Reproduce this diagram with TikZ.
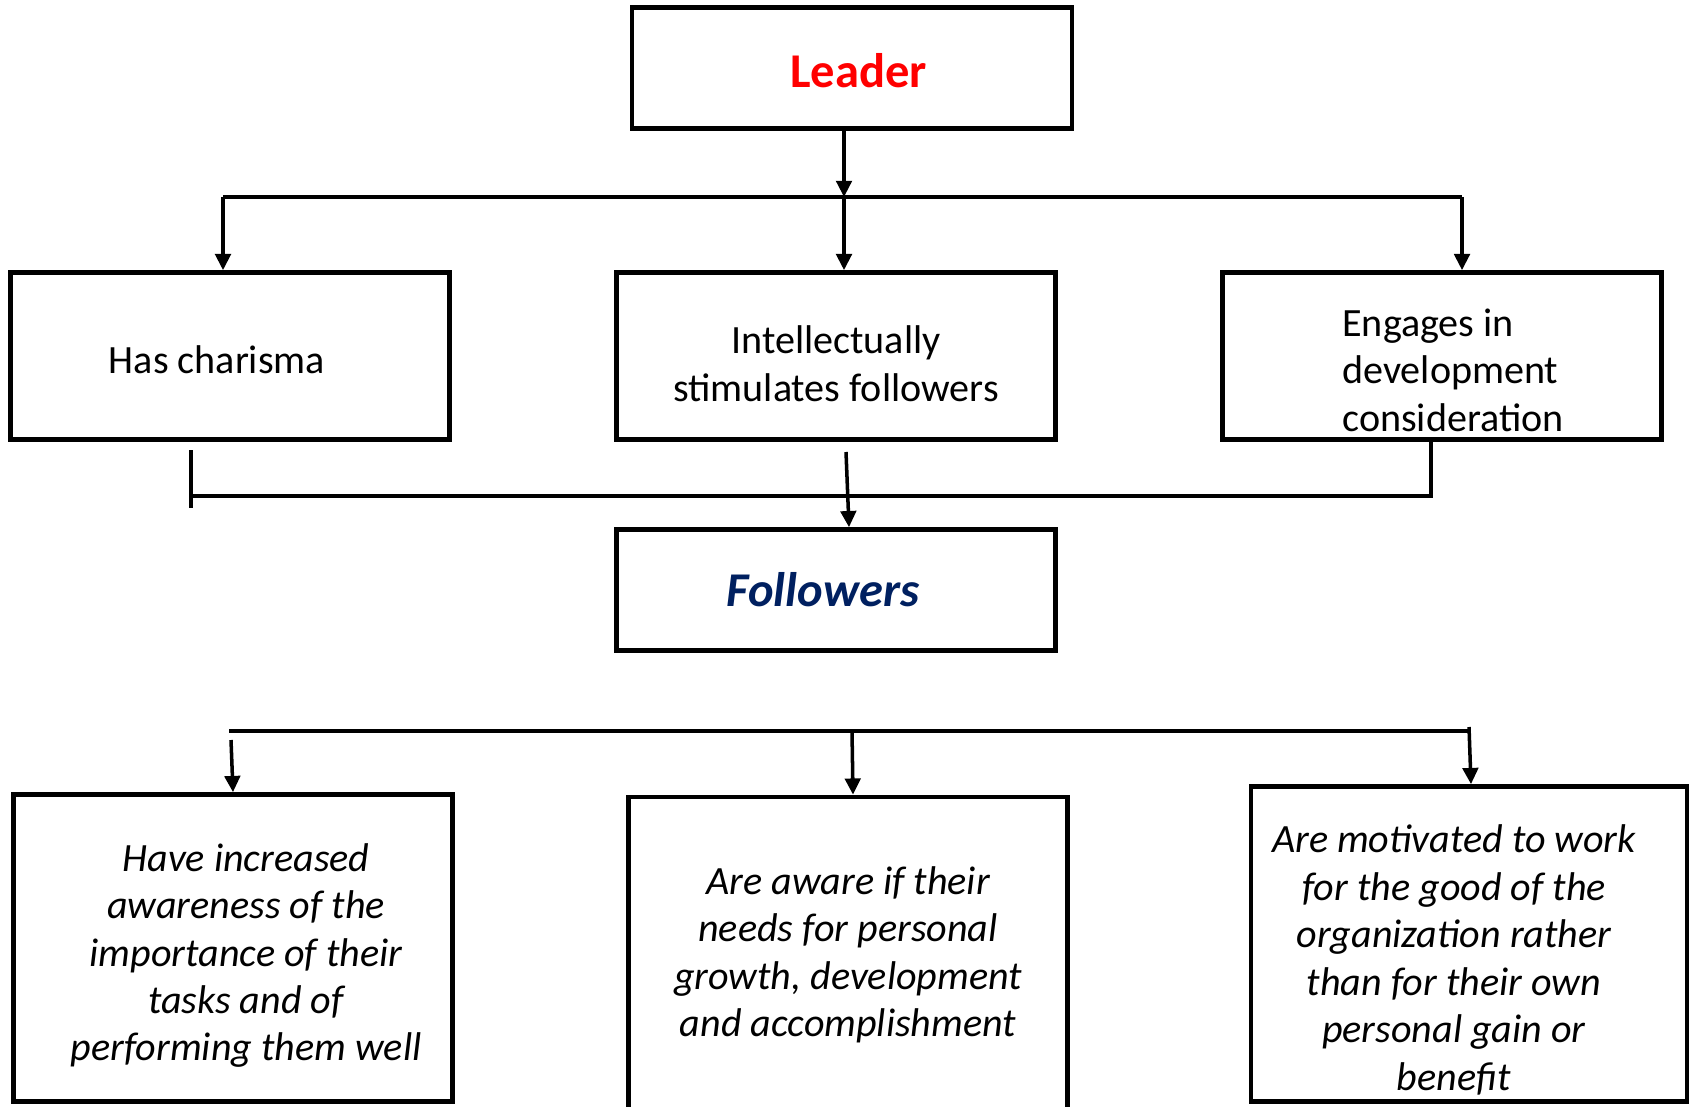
\documentclass[tikz,border=0pt]{standalone}
\usepackage{fontspec}
\setmainfont{Carlito}
\usetikzlibrary{arrows.meta,calc}
\definecolor{navy}{HTML}{002060}

\begin{document}
\begin{tikzpicture}[x=0.01cm, y=-0.01cm,
  txt/.style={align=center, font=\fontsize{11.4}{13.5}\selectfont},
  itx/.style={txt, font=\fontsize{11.4}{13.5}\selectfont\itshape},
  big/.style={font=\fontsize{13.8}{17}\selectfont\bfseries},
  box/.style={draw, line width=1.3pt, minimum width=4.39cm, txt},
  wire/.style={line width=1pt},
  arr/.style={wire, -{Triangle[length=4.6pt,width=4.4pt]}}]
\path[use as bounding box, clip] (0,0) rectangle (1691,1106);

\node[box, minimum width=4.4cm, minimum height=1.21cm,
  label={[big, text=red, xshift=0.065cm, yshift=-0.03cm]center:Leader}] (lead) at (852,68) {};

\node[box, minimum height=1.67cm,
  label={[txt, xshift=-0.13cm, yshift=-0.04cm]center:Has charisma}] (c1) at (230,356) {};
\node[box, minimum height=1.67cm,
  label={[txt, yshift=-0.075cm]center:{Intellectually\\stimulates followers}}] (c2) at (836,356) {};
\node[box, minimum height=1.67cm,
  label={[txt, align=left, xshift=0.11cm, yshift=-0.14cm]center:{Engages in\\development\\consideration}}] (c3) at (1442,356) {};

\node[box, minimum height=1.21cm,
  label={[big, font=\fontsize{13.8}{17}\selectfont\bfseries\itshape, text=navy, xshift=-0.13cm]center:Followers}] (fol) at (836,590) {};

\node[box, minimum height=3.07cm,
  label={[itx, xshift=0.13cm, yshift=-0.075cm]center:{Have increased\\awareness of the\\importance of their\\tasks and of\\performing them well}}] (r1) at (233,948) {};
\node[box, itx, minimum height=3.16cm] (r2) at (848,955)
  {Are aware if their\\needs for personal\\growth, development\\and accomplishment};
\node[box, minimum width=4.36cm, minimum height=3.15cm,
  label={[itx, xshift=-0.15cm, yshift=-0.16cm]center:{Are motivated to work\\for the good of the\\organization rather\\than for their own\\personal gain or\\benefit}}] (r3) at (1469,944) {};

% leader to the three qualities
\coordinate (b1w) at (223,197);
\coordinate (b1m) at (844,197);
\coordinate (b1e) at (1462,197);
\draw[wire] (b1w) -- (b1e);
\draw[arr] (lead.south -| b1m) -- (b1m);
\draw[arr] (b1w) -- (b1w |- c1.north);
\draw[arr] (b1m) -- (b1m |- c2.north);
\draw[arr] (b1e) -- (b1e |- c3.north);

% qualities to followers
\coordinate (b2w) at (191,496);
\coordinate (b2e) at (1431,496);
\coordinate (t2a) at (191,450);
\coordinate (t2b) at (191,508);
\coordinate (m2) at (846,452);
\draw[wire] (t2a) -- (t2b);
\draw[wire] (c3.south -| b2e) -- (b2e) -- (b2w);
\draw[arr] (m2) -- ($(fol.north)+(13,0)$);

% followers' outcomes
\coordinate (b3w) at (229,731);
\coordinate (b3m) at (852,731);
\coordinate (b3e) at (1469,731);
\coordinate (a1) at (231,740);
\draw[wire] (b3w) -- (b3e);
\draw[arr] (a1) -- (r1.north);
\draw[arr] (b3m) -- ($(r2.north)+(5,0)$);
\draw[arr] ($(b3e)+(0,-4)$) -- ($(r3.north)+(2,0)$);
\end{tikzpicture}
\end{document}
